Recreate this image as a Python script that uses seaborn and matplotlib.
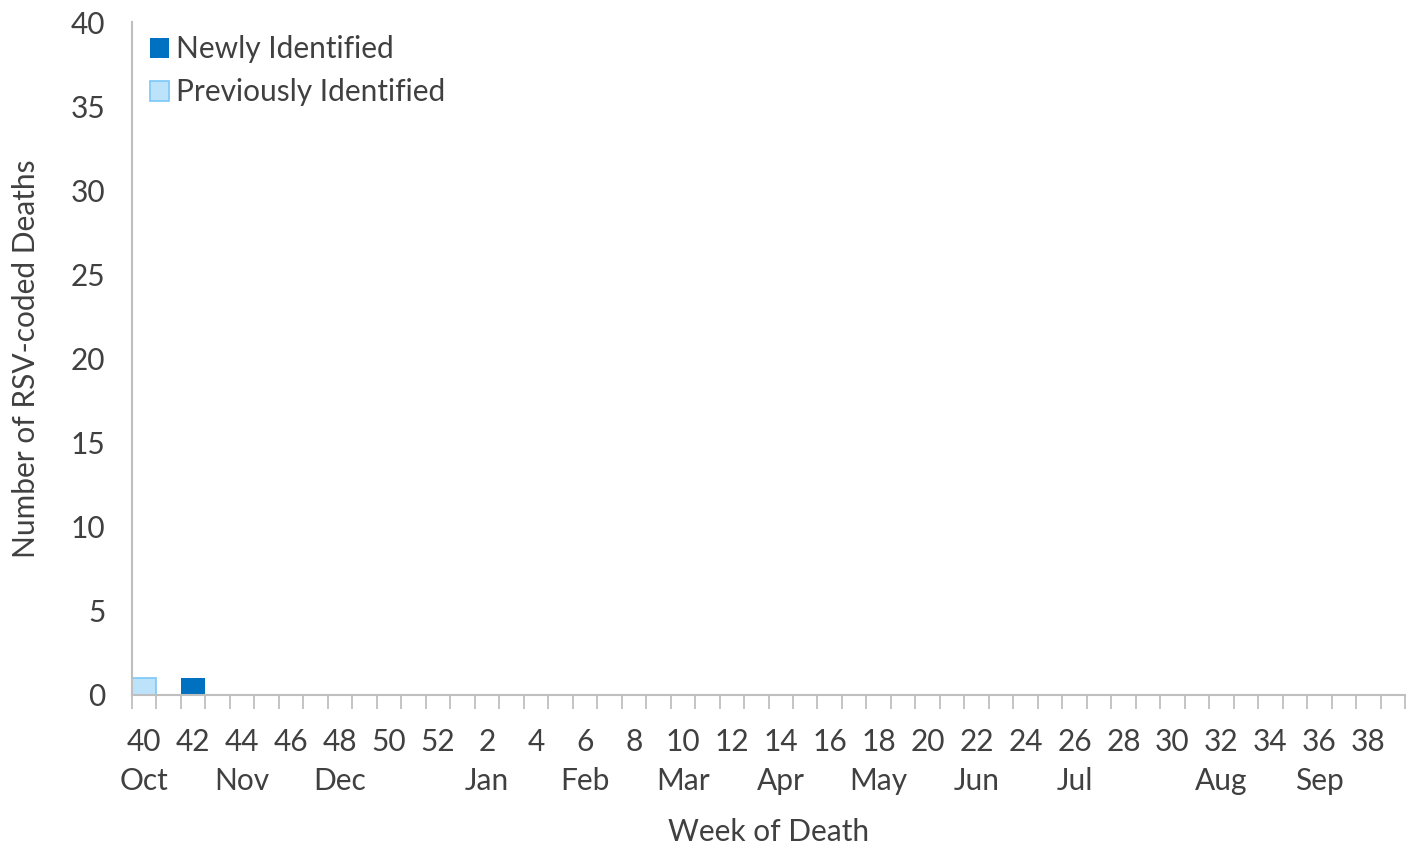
import numpy as np
import matplotlib
matplotlib.use("Agg")
import matplotlib.pyplot as plt
import seaborn as sns
import pandas as pd

# data
weeks = list(range(40, 53)) + list(range(1, 40))
newly = [0] * 52
previously = [0] * 52
newly[weeks.index(42)] = 1
previously[weeks.index(40)] = 1
months = {40: "Oct", 44: "Nov", 48: "Dec", 2: "Jan", 6: "Feb", 10: "Mar",
          14: "Apr", 18: "May", 22: "Jun", 26: "Jul", 32: "Aug", 36: "Sep"}

sns.set_style("white")
plt.rcParams['font.family'] = ['Lato', 'DejaVu Sans']
txt = "#404040"
grey = "#BFBFBF"
fs = 21.5

df = pd.DataFrame({"week": [str(w) for w in weeks],
                   "Newly Identified": newly,
                   "Previously Identified": previously})
order = df["week"].tolist()

fig = plt.figure(figsize=(14.11, 8.49), dpi=100)
ax = fig.add_axes([132 / 1411, 1 - 695 / 849, (1405 - 132) / 1411, (695 - 22) / 849])

sns.barplot(data=df, x="week", y="Previously Identified", order=order, ax=ax,
            color="#BDE3FB", edgecolor="#7CC8F8", linewidth=1.2, width=1.0,
            saturation=1, label="Previously Identified")
sns.barplot(data=df, x="week", y="Newly Identified", order=order, ax=ax,
            color="#0070C0", linewidth=0, width=1.0,
            saturation=1, bottom=df["Previously Identified"].values,
            label="Newly Identified")

ax.set_xlim(-0.5, len(weeks) - 0.5)
ax.set_ylim(0, 40)
ax.set_yticks(range(0, 41, 5))
ax.tick_params(axis="y", length=0, labelsize=fs, labelcolor=txt, pad=19)

labels = []
for w in weeks:
    if w % 2 == 0:
        labels.append(f"{w}\n{months[w]}" if w in months else str(w))
    else:
        labels.append("")
ax.set_xticks(range(len(weeks)))
ax.set_xticklabels(labels, fontsize=fs, color=txt, linespacing=1.45)
ax.tick_params(axis="x", which="major", length=0, pad=24)
ax.set_xticks(np.arange(-0.5, len(weeks), 1), minor=True)
ax.tick_params(axis="x", which="minor", length=10, width=1.3, color=grey, bottom=True)

for s in ["top", "right"]:
    ax.spines[s].set_visible(False)
for s in ["left", "bottom"]:
    ax.spines[s].set_color(grey)
    ax.spines[s].set_linewidth(1.5)

ax.set_xlabel("Week of Death", fontsize=fs, color=txt, labelpad=17)
ax.set_ylabel("Number of RSV-coded Deaths", fontsize=fs, color=txt, labelpad=22)

h, l = ax.get_legend_handles_labels()
ax.legend(h[::-1], l[::-1], loc="upper left", bbox_to_anchor=(0.0, 1.007), frameon=False,
          fontsize=fs, labelcolor=txt, handlelength=0.65, handleheight=0.65,
          handletextpad=0.22, labelspacing=0.5, borderaxespad=0.2)

fig.savefig("out.png", dpi=100)
